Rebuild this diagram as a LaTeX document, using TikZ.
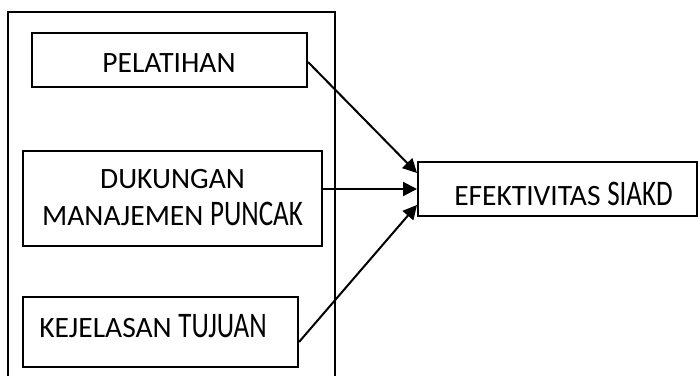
\documentclass[tikz,border=0pt]{standalone}
\usepackage{fontspec}
\setmainfont{Carlito}
\usetikzlibrary{arrows.meta}
\newcommand{\smallsz}{\fontsize{29.5}{37}\selectfont}
\newcommand{\bigword}[1]{\scalebox{0.75}[1]{\fontsize{36}{37}\selectfont #1}}
\begin{document}
\begin{tikzpicture}[x=1pt,y=-1pt,
  box/.style={draw,line width=2pt,inner sep=0pt},
  txt/.style={inner sep=0pt,align=center,anchor=base,font=\smallsz},
  arr/.style={line width=2pt,-{Triangle[length=14pt,width=14pt]}}]
\clip (0,0) rectangle (698,375);
\coordinate (o1) at (8,378);
\coordinate (o2) at (8,12);
\coordinate (o3) at (335,12);
\coordinate (o4) at (335,378);
\draw[line width=2pt] (o1) -- (o2) -- (o3) -- (o4);
\node[box,minimum width=275pt,minimum height=54pt] (pel) at (169.5,60) {};
\node[box,minimum width=299pt,minimum height=95pt] (duk) at (172.5,198.5) {};
\node[box,minimum width=275pt,minimum height=70pt] (kej) at (160.5,332) {};
\node[box,minimum width=279pt,minimum height=54pt] (efek) at (557.5,189) {};
\node[txt] (pelt) at (169,72) {PELATIHAN};
\node[txt] (dukt) at (172.5,225) {DUKUNGAN\\MANAJEMEN \bigword{PUNCAK}};
\node[txt] (kejt) at (153,337) {KEJELASAN \bigword{TUJUAN}};
\node[txt] (efekt) at (563.5,205) {EFEKTIVITAS \bigword{SIAKD}};
\draw[arr] ([yshift=-2pt]pel.east) -- ([yshift=16pt]efek.west);
\draw[arr] (duk.east |- efek.west) -- (efek.west);
\draw[arr] ([yshift=-10pt]kej.east) -- ([yshift=-16pt]efek.west);
\end{tikzpicture}
\end{document}
